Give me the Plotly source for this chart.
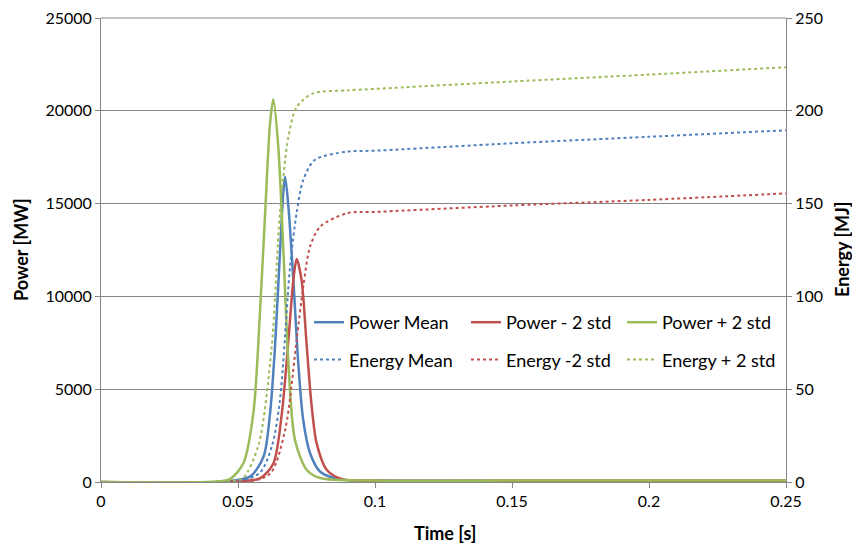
import plotly.graph_objects as go

# ---- data ----
t_pm = [0, 0.045, 0.0544, 0.0593, 0.0617, 0.0635, 0.0653, 0.0666, 0.0672, 0.0684, 0.0702, 0.072, 0.0738, 0.0763, 0.08, 0.0872, 0.1, 0.15, 0.2, 0.25]
p_pm = [0, 20, 290, 1360, 3700, 7290, 12320, 15730, 16450, 14830, 10880, 6400, 3340, 1550, 555, 140, 75, 72, 70, 70]

t_pl = [0, 0.048, 0.058, 0.0629, 0.066, 0.0684, 0.0702, 0.0714, 0.0732, 0.0751, 0.0769, 0.0787, 0.0824, 0.0884, 0.1, 0.15, 0.2, 0.25]
p_pl = [0, 15, 200, 1000, 3700, 7650, 10880, 12020, 10880, 7290, 4060, 2080, 650, 140, 68, 66, 65, 65]

t_ph = [0, 0.04, 0.047, 0.052, 0.0556, 0.058, 0.0599, 0.0617, 0.0629, 0.0647, 0.0665, 0.0684, 0.0708, 0.0751, 0.08, 0.1, 0.15, 0.2, 0.25]
p_ph = [0, 10, 150, 1024, 3700, 9090, 14480, 19330, 20620, 18070, 12680, 6400, 2260, 650, 215, 78, 76, 75, 75]

t_em = [0, 0.05, 0.058, 0.0625, 0.0653, 0.069, 0.0714, 0.0738, 0.078, 0.0897, 0.1, 0.15, 0.2, 0.25]
e_em = [0, 0.5, 5, 20, 44, 116, 145, 162.7, 173.5, 178, 178.5, 182.5, 186, 189.5]

t_el = [0, 0.055, 0.062, 0.0672, 0.0714, 0.0738, 0.0763, 0.08, 0.0897, 0.1, 0.15, 0.2, 0.25]
e_el = [0, 0.5, 5, 28, 76.5, 105, 126.8, 137.6, 144.8, 145.5, 149, 152, 155.5]

t_eh = [0, 0.047, 0.0518, 0.0575, 0.0623, 0.0653, 0.0684, 0.0714, 0.0774, 0.0897, 0.1, 0.15, 0.2, 0.25]
e_eh = [0, 0.5, 2, 20, 72.9, 145, 186, 202, 209.4, 211, 211.8, 215.8, 219.5, 223.5]

x_ticks = [0, 0.05, 0.1, 0.15, 0.2, 0.25]
x_labels = ["0", "0.05", "0.1", "0.15", "0.2", "0.25"]

BLUE, RED, GREEN = "#4F81BD", "#C0504D", "#9BBB59"
GRID = "#868686"
FONT = "Lato, 'Open Sans', sans-serif"
FS = 16      # tick labels
FL = 18      # legend / titles

W, H = 852, 546
L, T = 101, 18
PW, PH = 685, 464
R, B = W - L - PW, H - T - PH

fig = go.Figure()
def add(x, y, name, color, legend, dotted=False, y2=False):
    fig.add_trace(go.Scatter(
        x=x, y=y, name=name, mode="lines", legend=legend,
        yaxis="y2" if y2 else "y", legendgroup=name,
        line=dict(color=color, width=2 if dotted else 2.5, dash="dot" if dotted else "solid",
                  shape="spline", smoothing=0.8)))

add(t_pm, p_pm, "Power Mean", BLUE, "legend")
add(t_pl, p_pl, "Power - 2 std", RED, "legend2")
add(t_ph, p_ph, "Power + 2 std", GREEN, "legend3")
add(t_em, e_em, "Energy Mean", BLUE, "legend", dotted=True, y2=True)
add(t_el, e_el, "Energy -2 std", RED, "legend2", dotted=True, y2=True)
add(t_eh, e_eh, "Energy + 2 std", GREEN, "legend3", dotted=True, y2=True)

axis_common = dict(showline=True, linecolor=GRID, linewidth=1, ticks="outside",
                   tickcolor=GRID, ticklen=5, zeroline=False, automargin=False,
                   ticklabeloverflow="allow",
                   tickfont=dict(family=FONT, size=FS, color="#000"))

def px_x(p):  # screenshot px -> paper x
    return (p - L) / PW
def px_y(p):  # screenshot px -> paper y
    return (T + PH - p) / PH

def leg(xpx):
    return dict(orientation="v", x=px_x(xpx), y=px_y(304), xanchor="left", yanchor="top",
                bgcolor="rgba(0,0,0,0)", font=dict(family=FONT, size=FL, color="#000"),
                itemwidth=30, tracegroupgap=11)

fig.update_layout(
    width=W, height=H,
    margin=dict(l=L, r=R, t=T, b=B),
    paper_bgcolor="white", plot_bgcolor="white",
    font=dict(family=FONT, size=FS, color="#000"),
    xaxis=dict(range=[0, 0.25], tickvals=x_ticks, ticktext=x_labels, showgrid=False,
               **axis_common),
    yaxis=dict(range=[0, 25000], dtick=5000, tickformat="d", showgrid=True,
               gridcolor=GRID, gridwidth=1, **axis_common),
    yaxis2=dict(range=[0, 250], dtick=50, tickformat="d", overlaying="y", side="right",
                showgrid=False, **axis_common),
    legend=leg(309),
    legend2=leg(466),
    legend3=leg(622),
    shapes=[dict(type="line", xref="paper", yref="paper", x0=0, x1=1, y0=1, y1=1,
                 line=dict(color=GRID, width=1), layer="below")],
    annotations=[
        dict(text="<b>Time [s]</b>", x=px_x(445), y=px_y(533), xref="paper", yref="paper",
             showarrow=False, font=dict(family=FONT, size=FL), xanchor="center", yanchor="middle"),
        dict(text="<b>Power [MW]</b>", x=px_x(21), y=px_y(250), xref="paper", yref="paper",
             showarrow=False, textangle=-90, font=dict(family=FONT, size=FL),
             xanchor="center", yanchor="middle"),
        dict(text="<b>Energy [MJ]</b>", x=px_x(842), y=px_y(250), xref="paper", yref="paper",
             showarrow=False, textangle=-90, font=dict(family=FONT, size=FL),
             xanchor="center", yanchor="middle"),
    ],
)

# remove the default 8px page margin so the figure fills the 852x546 window exactly
fig.write_html("out.html", config={"displayModeBar": False},
               post_script="document.body.style.margin='0px';document.body.style.overflow='hidden';")
